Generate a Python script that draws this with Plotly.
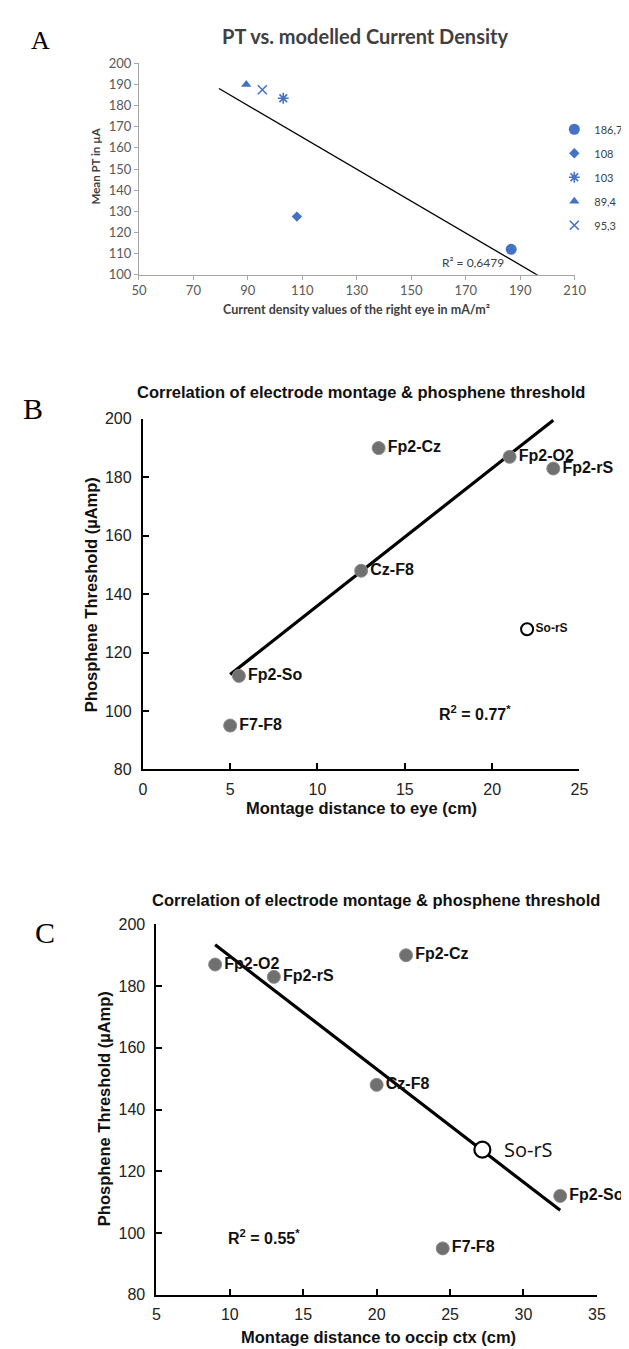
import numpy as np
import plotly.graph_objects as go

W, H = 629, 1349

# ---------------- data ----------------
# Panel A
A_density = [186.7, 108, 103, 89.4, 95.3]
A_pt = [112, 127.5, 183.5, 190, 187.5]
A_names = ["186,7", "108", "103", "89,4", "95,3"]
A_r2_text = "R² = 0,6479"
A_forecast = 10  # trendline forecast backward/forward

# Panel B
B_labels = ["Fp2-Cz", "Fp2-O2", "Fp2-rS", "Cz-F8", "Fp2-So", "F7-F8"]
B_dist_eye = [13.5, 21.0, 23.5, 12.5, 5.5, 5.0]
B_pt = [190, 187, 183, 148, 112, 95]
B_open_label = "So-rS"
B_open_dist = [22.0]
B_open_pt = [128]
B_r2 = "0.77"

# Panel C
C_labels = ["Fp2-O2", "Fp2-rS", "Fp2-Cz", "Cz-F8", "Fp2-So", "F7-F8"]
C_dist_occ = [9.0, 13.0, 22.0, 20.0, 32.5, 24.5]
C_pt = [187, 183, 190, 148, 112, 95]
C_open_label = "So-rS"
C_open_dist = [27.2]
C_open_pt = [127]
C_r2 = "0.55"


def px(x):
    return x / W


def py(y):
    return 1 - y / H


A_BLUE = "#4472C4"
GRAY = "#707070"
SANS = "Liberation Sans"
SERIF = "Liberation Serif"
CAL = "Lato"

fig = go.Figure()

# ---------------- Panel A ----------------
a_styles = [
    dict(symbol="circle", size=11, color=A_BLUE, line=dict(width=0)),
    dict(symbol="diamond", size=8, color=A_BLUE, line=dict(width=0)),
    dict(symbol="asterisk-open", size=9, color=A_BLUE, line=dict(width=1.6, color=A_BLUE)),
    dict(symbol="triangle-up", size=9, color=A_BLUE, line=dict(width=0)),
    dict(symbol="x-thin-open", size=9, color=A_BLUE, line=dict(width=1.6, color=A_BLUE)),
]
for i, (xv, yv, nm) in enumerate(zip(A_density, A_pt, A_names)):
    fig.add_trace(go.Scatter(
        x=[xv], y=[yv], mode="markers", name=nm, marker=a_styles[i],
        xaxis="x", yaxis="y", showlegend=True, legendgroup=f"g{i}",
        cliponaxis=False,
    ))

a_slope, a_int = np.polyfit(A_density, A_pt, 1)
a_fx = np.array([min(A_density) - A_forecast, max(A_density) + A_forecast])
fig.add_trace(go.Scatter(
    x=a_fx, y=a_slope * a_fx + a_int, mode="lines",
    line=dict(color="black", width=1.3), xaxis="x", yaxis="y", showlegend=False,
))

# ---------------- Panel B ----------------
b_slope, b_int = np.polyfit(B_dist_eye, B_pt, 1)
b_fx = np.array([min(B_dist_eye), max(B_dist_eye)])
fig.add_trace(go.Scatter(
    x=b_fx, y=b_slope * b_fx + b_int, mode="lines",
    line=dict(color="black", width=3.2), xaxis="x2", yaxis="y2", showlegend=False,
    cliponaxis=False,
))
fig.add_trace(go.Scatter(
    x=B_dist_eye, y=B_pt, mode="markers+text", text=B_labels,
    textposition="middle right",
    textfont=dict(family=SANS, size=16, color="#111111", weight="bold"),
    marker=dict(size=13, color=GRAY, line=dict(width=1, color="#8c8c8c")),
    xaxis="x2", yaxis="y2", showlegend=False, cliponaxis=False,
))
fig.add_trace(go.Scatter(
    x=B_open_dist, y=B_open_pt, mode="markers+text", text=[B_open_label],
    textposition="middle right",
    textfont=dict(family=SANS, size=12, color="#111111", weight="bold"),
    marker=dict(size=12, color="white", line=dict(width=2, color="black")),
    xaxis="x2", yaxis="y2", showlegend=False, cliponaxis=False,
))

# ---------------- Panel C ----------------
c_slope, c_int = np.polyfit(C_dist_occ, C_pt, 1)
c_fx = np.array([min(C_dist_occ), max(C_dist_occ)])
fig.add_trace(go.Scatter(
    x=c_fx, y=c_slope * c_fx + c_int, mode="lines",
    line=dict(color="black", width=3.2), xaxis="x3", yaxis="y3", showlegend=False,
    cliponaxis=False,
))
fig.add_trace(go.Scatter(
    x=C_dist_occ, y=C_pt, mode="markers+text", text=C_labels,
    textposition="middle right",
    textfont=dict(family=SANS, size=16, color="#111111", weight="bold"),
    marker=dict(size=13, color=GRAY, line=dict(width=1, color="#8c8c8c")),
    xaxis="x3", yaxis="y3", showlegend=False, cliponaxis=False,
))
fig.add_trace(go.Scatter(
    x=C_open_dist, y=C_open_pt, mode="markers",
    marker=dict(size=16, color="white", line=dict(width=2.2, color="black")),
    xaxis="x3", yaxis="y3", showlegend=False, cliponaxis=False,
))

# ---------------- axes ----------------
a_axis = dict(showline=True, linecolor="#a6a6a6", linewidth=1, ticks="outside",
              ticklen=4, tickcolor="#a6a6a6", showgrid=False, zeroline=False,
              tickfont=dict(family=CAL, size=13, color="#595959"))
bc_axis = dict(showline=True, linecolor="black", linewidth=2, ticks="inside",
               ticklen=6, tickwidth=2, tickcolor="black", showgrid=False, zeroline=False,
               tickfont=dict(family=SANS, size=16, color="#222222"))

fig.update_layout(
    width=W, height=H,
    margin=dict(l=0, r=0, t=0, b=0),
    paper_bgcolor="white", plot_bgcolor="white",
    xaxis=dict(domain=[px(127), px(577)], range=[50, 210], tick0=50, dtick=20,
               anchor="y", **a_axis),
    yaxis=dict(domain=[py(262), py(48)], range=[100, 200], dtick=10,
               anchor="x", **a_axis),
    xaxis2=dict(domain=[px(131), px(582)], range=[0, 25], dtick=5, anchor="y2",
                ticklabelstandoff=4, **bc_axis),
    yaxis2=dict(domain=[py(763), py(408)], range=[80, 200], dtick=20, anchor="x2",
                ticklabelstandoff=6, **bc_axis),
    xaxis3=dict(domain=[px(145), px(600)], range=[5, 35], dtick=5, anchor="y3",
                ticklabelstandoff=4, **bc_axis),
    yaxis3=dict(domain=[py(1295), py(920)], range=[80, 200], dtick=20, anchor="x3",
                ticklabelstandoff=6, **bc_axis),
    legend=dict(x=px(556), y=py(100), xanchor="left", yanchor="top",
                font=dict(family=CAL, size=11, color="#404040"),
                tracegroupgap=5, itemwidth=30, bgcolor="rgba(0,0,0,0)"),
    showlegend=True,
)

ann = []


def paper_text(x, y, text, size, family, bold=False, angle=0, color="black",
               xanchor="center"):
    ann.append(dict(x=px(x), y=py(y), xref="paper", yref="paper", text=text,
                    showarrow=False, xanchor=xanchor, yanchor="middle",
                    textangle=angle,
                    font=dict(family=family, size=size, color=color,
                              weight="bold" if bold else "normal")))


# Panel A texts
paper_text(360, 20, "PT vs. modelled Current Density", 20, CAL, bold=True, color="#404040")
paper_text(25, 25, "A", 26, SERIF)
paper_text(352, 297, "Current density values of the right eye in mA/m²", 12.5, CAL,
           bold=True, color="#404040")
paper_text(82, 152, "Mean PT in µA", 11.5, CAL, bold=True, angle=-90, color="#404040")
ann.append(dict(x=172.5, y=105.8, xref="x", yref="y", text=A_r2_text, showarrow=False,
                font=dict(family=CAL, size=12, color="#404040")))

# Panel B texts
paper_text(356, 381, "Correlation of electrode montage &amp; phosphene threshold", 16.5,
           SANS, bold=True, color="#111111")
paper_text(18, 398, "B", 30, SERIF)
paper_text(357, 802, "Montage distance to eye (cm)", 16.5, SANS, bold=True, color="#111111")
paper_text(77, 586, "Phosphene Threshold (µAmp)", 16.5, SANS, bold=True, angle=-90,
           color="#111111")
ann.append(dict(x=19.0, y=99.3, xref="x2", yref="y2",
                text=f"R<sup>2</sup> = {B_r2}<sup>*</sup>", showarrow=False,
                font=dict(family=SANS, size=16, color="#111111", weight="bold")))

# Panel C texts
paper_text(372, 895, "Correlation of electrode montage &amp; phosphene threshold", 16.5,
           SANS, bold=True, color="#111111")
paper_text(30, 928, "C", 30, SERIF)
paper_text(374, 1338, "Montage distance to occip ctx (cm)", 16.5, SANS, bold=True,
           color="#111111")
paper_text(91, 1107, "Phosphene Threshold (µAmp)", 16.5, SANS, bold=True, angle=-90,
           color="#111111")
ann.append(dict(x=12.3, y=98.6, xref="x3", yref="y3",
                text=f"R<sup>2</sup> = {C_r2}<sup>*</sup>", showarrow=False,
                font=dict(family=SANS, size=16, color="#111111", weight="bold")))
ann.append(dict(x=C_open_dist[0], y=C_open_pt[0], xref="x3", yref="y3",
                text=C_open_label, showarrow=False, xanchor="left", xshift=20,
                font=dict(family="Open Sans", size=20, color="#111111")))

fig.update_layout(annotations=ann)

fig.write_html("out.html")
